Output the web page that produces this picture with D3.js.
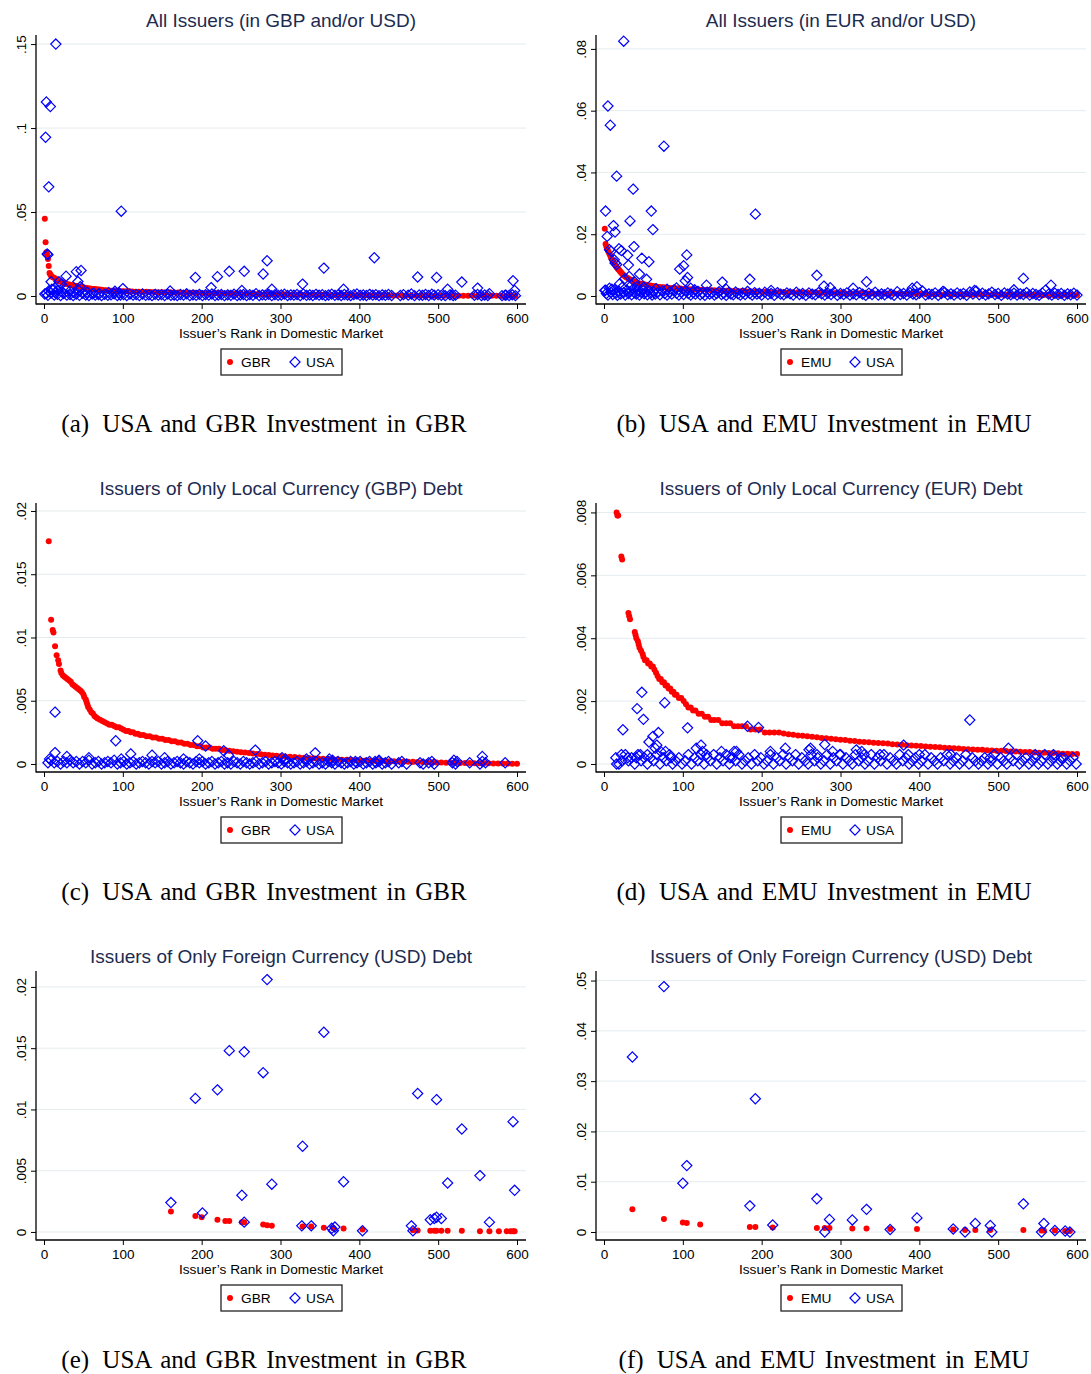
<!DOCTYPE html>
<html>
<head>
<meta charset="utf-8">
<script src="https://cdn.jsdelivr.net/npm/d3@7"></script>
<style>
  body { margin: 0; background: #fff; }
</style>
</head>
<body>
<div id="chart"></div>
<script>
// ---- data: [issuer rank, share] ----

const titles = [
    "All Issuers (in GBP and/or USD)",
    "All Issuers (in EUR and/or USD)",
    "Issuers of Only Local Currency (GBP) Debt",
    "Issuers of Only Local Currency (EUR) Debt",
    "Issuers of Only Foreign Currency (USD) Debt",
    "Issuers of Only Foreign Currency (USD) Debt"
];
const captions = [
    ["(a)", "USA and GBR Investment in GBR"],
    ["(b)", "USA and EMU Investment in EMU"],
    ["(c)", "USA and GBR Investment in GBR"],
    ["(d)", "USA and EMU Investment in EMU"],
    ["(e)", "USA and GBR Investment in GBR"],
    ["(f)", "USA and EMU Investment in EMU"]
];
const homeNames = ["GBR", "EMU", "GBR", "EMU", "GBR", "EMU"];
const xTicks = [0, 100, 200, 300, 400, 500, 600];
const yTicks = [
    [0, .05, .1, .15],
    [0, .02, .04, .06, .08],
    [0, .005, .01, .015, .02],
    [0, .002, .004, .006, .008],
    [0, .005, .01, .015, .02],
    [0, .01, .02, .03, .04, .05]
];
const yDomains = [
    [-0.00476, 0.1554],
    [-0.00259, 0.0845],
    [-0.000632, 0.02063],
    [-0.000254, 0.0083],
    [-0.000656, 0.0213],
    [-0.00159, 0.0519]
];

// (a) all issuers, GBR
const aGBR = [[1,.046],[2,.032],[3,.026],[4,.0245],[5,.022],[6,.0178],[7,.0137],[8,.0128],[9,.012],[10,.0115],[12,.011],[14,.0105],[16,.0099],[18,.0093],[20,.0088],[22,.0083],[24,.0078],[26,.0075],[28,.0072],[30,.007],[32,.0068],[34,.0066],[36,.0064],[38,.0062],[40,.006],[42,.0059],[44,.0057],[46,.0055],[48,.0053],[50,.0051],[52,.0049],[54,.0047],[56,.0045],[58,.0044],[60,.0043],[62,.0042],[64,.0041],[66,.004],[68,.0039],[70,.0038],[73,.0037],[76,.0035],[79,.0034],[82,.0033],[85,.0032],[88,.0031],[91,.0031],[94,.003],[97,.0029],[100,.0029],[104,.0028],[108,.0028],[112,.0027],[116,.0026],[120,.0026],[125,.0025],[130,.0025],[135,.0024],[140,.0024],[145,.0023],[150,.0023],[155,.0022],[160,.0022],[165,.0021],[170,.0021],[175,.002],[180,.002],[185,.0019],[190,.0019],[195,.0018],[200,.0018],[205,.0017],[210,.0017],[215,.0016],[220,.0016],[225,.0016],[230,.0015],[235,.0015],[240,.0015],[245,.0014],[250,.0014],[256,.0013],[262,.0013],[268,.0012],[274,.0012],[280,.0011],[286,.0011],[292,.001],[298,.001],[304,.001],[310,.0009],[316,.0009],[322,.0009],[328,.0008],[334,.0008],[340,.0008],[346,.0007],[352,.0007],[358,.0007],[364,.0006],[370,.0006],[376,.0006],[382,.0006],[388,.0005],[394,.0005],[400,.0005],[406,.0005],[412,.0004],[418,.0004],[424,.0004],[430,.0004],[436,.0004],[442,.0003],[448,.0003],[454,.0003],[460,.0003],[466,.0003],[472,.0002],[478,.0002],[484,.0002],[490,.0002],[496,.0002],[502,.0002],[508,.0002],[514,.0001],[520,.0001],[526,.0001],[532,.0001],[538,.0001],[544,.0001],[550,.0001],[556,.0001],[562,.0001],[568,.0001],[574,.0001],[580,0],[586,0],[592,0],[598,0]];
const aUSA = [[15,.15],[3,.1155],[8,.1128],[2,.0945],[6,.065],[98,.0505],[4,.025],[5,.0245],[9,.0085],[28,.0118],[41,.0145],[47,.0152],[43,.0086],[46,.0056],[19,.0085],[12,.004],[22,.007],[100,.0044],[160,.003],[192,.011],[212,.005],[220,.0115],[235,.0147],[251,.0033],[254,.0147],[278,.0131],[283,.021],[289,.004],[328,.0071],[355,.0166],[380,.004],[419,.0228],[474,.0113],[498,.011],[512,.004],[530,.0083],[550,.0047],[595,.0091],[597,.0033],[565,.0014],[585,.0005],
    [3,.0015],[6,.003],[10,.004],[14,.002],[18,.0035],[23,.0025],[27,.0045],[33,.003],[38,.002],[44,.0035],[55,.0022],[63,.0018],[70,.0015],[82,.002],[90,.0028],[95,.002],
    [1,.0012],[5,.0004],[9,.0018],[13,.0006],[17,.001],[21,.0003],[25,.0014],[29,.0005],[33,.0009],[37,.0002],[41,.0011],[45,.0004],[49,.0016],[53,.0006],[57,.0003],[61,.0012],[65,.0005],[69,.0008],[73,.0002],[77,.001],[81,.0004],[85,.0007],[89,.0013],[93,.0003],[97,.0006],[101,.0009],[105,.0002],[109,.0011],[113,.0005],[117,.0008],[121,.0003],[125,.0012],[129,.0004],[133,.0007],[137,.0002],[141,.001],[145,.0005],[149,.0008],[153,.0003],[157,.0011],[161,.0004],[165,.0006],[169,.0002],[173,.0009],[177,.0005],[181,.0013],[185,.0003],[189,.0007],[193,.0004],[197,.001],[201,.0002],[205,.0008],[209,.0005],[213,.0012],[217,.0003],[221,.0006],[225,.0009],[229,.0002],[233,.0007],[237,.0004],[241,.0011],[245,.0003],[249,.0006],[253,.0009],[257,.0002],[261,.0008],[265,.0004],[269,.0014],[273,.0003],[277,.0007],[281,.0005],[285,.001],[289,.0002],[293,.0008],[297,.0004],[301,.0006],[305,.0011],[309,.0003],[313,.0007],[317,.0005],[321,.0009],[325,.0002],[329,.0012],[333,.0004],[337,.0007],[341,.0003],[345,.001],[349,.0005],[353,.0008],[357,.0002],[361,.0006],[365,.0011],[369,.0004],[373,.0007],[377,.0003],[381,.0009],[385,.0005],[389,.0002],[393,.0008],[397,.0012],[401,.0004],[405,.0006],[409,.0003],[413,.001],[417,.0005],[421,.0008],[425,.0002],[429,.0007],[433,.0004],[437,.0009],[441,.0003],[452,.0003],[456,.0008],[462,.0005],[466,.0012],[470,.0002],[476,.0006],[480,.0004],[484,.0009],[488,.0003],[492,.0011],[495,.0005],[500,.0008],[504,.0004],[509,.0002],[515,.0007],[519,.0003],[522,.0005],[546,.0004],[550,.0009],[555,.0002],[559,.0006],[563,.0003],[581,.0002],[586,.0005],[590,.0003],[594,.0007],[598,.0002]];

// (b) all issuers, EMU
const bEMU = [[1,.0218],[2,.0168],[3,.016],[4,.0152],[5,.0147],[6,.0142],[7,.0136],[8,.013],[9,.0124],[10,.0119],[11,.0114],[12,.011],[13,.0106],[14,.0101],[15,.0097],[16,.0093],[17,.009],[18,.0087],[19,.0084],[20,.0081],[21,.0078],[22,.0075],[23,.0072],[24,.007],[25,.0067],[26,.0065],[27,.0063],[28,.0061],[30,.0058],[32,.0055],[34,.0052],[36,.0049],[38,.0047],[40,.0045],[42,.0043],[44,.0041],[46,.004],[48,.0039],[50,.0038],[52,.0037],[54,.0036],[56,.0035],[58,.0034],[60,.0033],[62,.0032],[64,.0031],[67,.003],[70,.0029],[73,.0028],[76,.0028],[79,.0027],[82,.0026],[85,.0026],[88,.0025],[91,.0025],[94,.0024],[97,.0024],[100,.0023],[104,.0023],[108,.0022],[112,.0022],[116,.0021],[120,.0021],[125,.002],[130,.002],[135,.0019],[140,.0019],[145,.0018],[150,.0018],[155,.0017],[160,.0017],[165,.0016],[170,.0016],[175,.0016],[180,.0015],[186,.0015],[192,.0014],[198,.0014],[204,.0014],[210,.0013],[216,.0013],[222,.0013],[228,.0012],[234,.0012],[240,.0012],[246,.0012],[252,.0011],[258,.0011],[264,.0011],[270,.0011],[276,.001],[282,.001],[288,.001],[294,.001],[300,.001],[306,.0009],[312,.0009],[318,.0009],[324,.0009],[330,.0009],[336,.0008],[342,.0008],[348,.0008],[354,.0008],[360,.0008],[366,.0008],[372,.0007],[378,.0007],[384,.0007],[390,.0007],[396,.0007],[402,.0007],[408,.0006],[414,.0006],[420,.0006],[426,.0006],[432,.0006],[438,.0006],[444,.0006],[450,.0005],[456,.0005],[462,.0005],[468,.0005],[474,.0005],[480,.0005],[486,.0005],[492,.0005],[498,.0004],[504,.0004],[510,.0004],[516,.0004],[522,.0004],[528,.0004],[534,.0004],[540,.0004],[546,.0004],[552,.0003],[558,.0003],[564,.0003],[570,.0003],[576,.0003],[582,.0003],[588,.0003],[594,.0003],[600,.0003]];
const bUSA = [[25,.0825],[5,.0615],[8,.0553],[76,.0485],[16,.0388],[37,.0346],[2,.0275],[60,.0275],[192,.0265],[33,.0243],[12,.0228],[62,.0215],[14,.0207],[4,.0193],[19,.0153],[22,.0147],[38,.016],[7,.015],[9,.0145],[30,.0132],[48,.0122],[57,.0111],[105,.0133],[13,.0117],[14,.0107],[16,.0102],[31,.01],[96,.0087],[101,.0098],[45,.0071],[54,.0054],[32,.0063],[39,.0045],[103,.0049],[106,.006],[150,.0045],[185,.0054],[130,.0035],[270,.0067],[279,.0032],[287,.0027],[316,.0025],[333,.0046],[397,.003],[391,.0025],[532,.0057],[567,.0035],[520,.002],[470,.0018],[430,.0015],[212,.0018],[2,.0019],[10,.0022],[20,.004],[26,.0055],[35,.0035],[42,.003],[50,.0028],[66,.0024],[80,.0022],[92,.0026],[110,.0025],[115,.002],[155,.0022],
    [1,.0018],[3,.0008],[5,.0003],[7,.0025],[9,.0012],[11,.0005],[13,.002],[15,.0009],[17,.0002],[19,.0015],[21,.0006],[23,.0028],[25,.0011],[27,.0003],[29,.0019],[31,.0008],[33,.0014],[35,.0004],[37,.0023],[39,.001],[41,.0006],[43,.0017],[45,.0003],[47,.0012],[49,.0021],[51,.0007],[53,.0013],[55,.0004],[57,.0018],[59,.0009],[61,.0003],[63,.0014],[65,.0006],[68,.0011],[71,.0004],[74,.0016],[77,.0008],[80,.0003],[83,.0012],[86,.0006],[89,.002],[92,.0009],[95,.0003],[98,.0013],[101,.0005],[104,.0017],[107,.0008],[110,.0003],[113,.0011],[116,.0006],[119,.0015],[122,.0004],[125,.0009],[128,.0002],[131,.0012],[134,.0006],[137,.001],[140,.0003],[143,.0008],[146,.0014],[149,.0005],[152,.0009],[155,.0002],[158,.0011],[161,.0006],[164,.0004],[167,.0013],[170,.0007],[173,.0003],[176,.001],[179,.0005],[182,.0015],[185,.0008],[188,.0003],[191,.0011],[194,.0006],[197,.0009],[200,.0003],[204,.0012],[208,.0005],[212,.0008],[216,.0002],[220,.0011],[224,.0006],[228,.0004],[232,.001],[236,.0007],[240,.0003],[244,.0012],[248,.0005],[252,.0008],[256,.0002],[260,.001],[264,.0006],[268,.0004],[272,.0011],[276,.0007],[280,.0003],[284,.0009],[288,.0005],[292,.0012],[296,.0002],[300,.0008],[304,.0005],[308,.001],[312,.0003],[316,.0007],[320,.0004],[324,.0011],[328,.0006],[332,.0002],[336,.0009],[340,.0005],[344,.0012],[348,.0003],[352,.0007],[356,.0004],[360,.001],[364,.0006],[368,.0002],[372,.0014],[376,.0005],[380,.0008],[384,.0003],[388,.0011],[392,.0006],[396,.0004],[400,.0009],[404,.0016],[408,.0003],[412,.0007],[416,.0005],[420,.001],[424,.0002],[428,.0008],[432,.0012],[436,.0004],[440,.0007],[444,.0003],[448,.001],[452,.0005],[456,.0008],[460,.0002],[464,.0013],[468,.0006],[472,.0016],[476,.0004],[480,.0009],[484,.0003],[488,.0007],[492,.0012],[496,.0005],[500,.0008],[504,.0002],[508,.001],[512,.0006],[516,.0004],[520,.0009],[524,.0003],[528,.0007],[532,.0005],[536,.0011],[540,.0003],[544,.0008],[548,.0005],[552,.0002],[556,.001],[560,.0019],[564,.0006],[568,.0003],[572,.0009],[576,.0005],[580,.0008],[584,.0002],[588,.0007],[592,.0004],[596,.0009],[600,.0003]];

// (c) local-currency issuers, GBR
const cGBR = [[6,.0176],[9,.0114],[11,.0106],[12,.0104],[14,.0093],[16,.0086],[18,.0082],[19,.0079],[21,.0074],[22,.0072],[24,.007],[26,.0069],[28,.0068],[30,.0067],[32,.0066],[34,.0065],[36,.0063],[38,.0062],[40,.0061],[42,.006],[44,.0059],[46,.0058],[48,.0057],[50,.0055],[51,.0053],[53,.0051],[54,.0049],[55,.0047],[56,.0045],[58,.0043],[60,.0041],[62,.004],[64,.0038],[66,.0037],[68,.0036],[71,.0035],[74,.0034],[77,.0033],[80,.0032],[83,.0031],[86,.0031],[89,.003],[92,.0029],[95,.0029],[98,.0028],[101,.0027],[104,.0026],[107,.0026],[110,.0025],[113,.0025],[116,.0024],[119,.0024],[122,.0023],[126,.0023],[130,.0022],[134,.0022],[138,.0021],[142,.0021],[146,.002],[150,.002],[154,.0019],[158,.0019],[162,.0018],[166,.0018],[170,.0017],[174,.0017],[178,.0016],[182,.0016],[186,.0015],[190,.0015],[194,.0014],[198,.0014],[202,.0013],[206,.0013],[210,.0013],[214,.0012],[218,.0012],[222,.0012],[226,.0011],[230,.0011],[235,.00105],[240,.001],[245,.00097],[250,.00093],[255,.0009],[260,.00086],[265,.00083],[270,.0008],[275,.00077],[280,.00074],[285,.00071],[290,.00068],[295,.00065],[300,.00062],[306,.0006],[312,.00057],[318,.00055],[324,.00052],[330,.0005],[336,.00048],[342,.00046],[348,.00044],[354,.00042],[360,.0004],[366,.00038],[372,.00036],[378,.00034],[384,.00033],[390,.00031],[396,.0003],[402,.00028],[408,.00027],[414,.00026],[420,.00025],[426,.00024],[432,.00023],[438,.00022],[444,.00021],[450,.0002],[456,.00019],[462,.00018],[468,.00017],[474,.00016],[480,.00015],[486,.00014],[492,.00013],[498,.00012],[504,.00011],[510,.0001],[516,.0001],[522,.00009],[528,.00008],[534,.00008],[540,.00007],[546,.00006],[552,.00006],[558,.00005],[564,.00005],[570,.00004],[576,.00004],[582,.00003],[588,.00003],[594,.00002],[600,.00002]];
const cUSA = [[14,.0041],[91,.00184],[195,.00184],[205,.00142],[228,.00105],[234,.0007],[268,.0011],[344,.00088],[556,.0006],[14,.0009],[7,.0004],[29,.0006],[57,.0005],[110,.0008],[137,.0007],[153,.0005],[177,.0004],[197,.0004],[302,.0005],[306,.0004],[333,.0004],[362,.0004],[366,.0003],[425,.0003],[420,.0002],[395,.0002],[98,.0004],
    [5,.0001],[9,.0003],[13,.0001],[17,.0002],[21,0],[25,.0002],[29,.0001],[33,.0003],[37,.0001],[41,.0002],[45,0],[49,.0002],[53,.0001],[57,.0003],[61,0],[65,.0001],[69,.0002],[73,0],[77,.0001],[81,.0002],[85,.0001],[89,.0003],[93,0],[97,.0001],[101,.0002],[105,0],[109,.0001],[113,.0002],[117,0],[121,.0001],[125,.0002],[129,.0001],[133,0],[137,.0002],[141,.0001],[145,.0002],[149,0],[153,.0001],[157,.0002],[161,0],[165,.0001],[169,.0002],[173,.0001],[177,0],[181,.0002],[185,.0001],[189,0],[193,.0002],[197,.0001],[201,.0002],[205,0],[209,.0001],[213,.0002],[217,0],[221,.0001],[225,.0002],[229,0],[233,.0001],[237,0],[241,.0002],[245,.0001],[249,0],[253,.0002],[257,.0001],[261,0],[265,.0001],[269,.0002],[273,0],[277,.0001],[281,.0002],[285,0],[289,.0001],[293,.0002],[297,.0001],[301,0],[305,.0002],[309,.0001],[313,0],[317,.0001],[321,.0002],[325,0],[329,.0001],[333,.0002],[337,0],[341,.0001],[345,.0002],[349,0],[353,.0001],[357,0],[361,.0002],[365,.0001],[369,0],[373,.0002],[377,.0001],[381,0],[385,.0001],[389,.0002],[393,0],[397,.0001],[401,.0002],[405,0],[409,.0001],[413,.0002],[417,0],[421,.0001],[425,.0002],[429,0],[433,.0001],[437,.0002],[441,0],[450,.0001],[454,.0002],[460,0],[477,.0001],[481,0],[488,.0001],[492,.0002],[495,0],[518,.0001],[520,.0003],[522,0],[524,.0002],[540,.0001],[553,0],[556,.0002],[560,.0001],[585,.0001]];

// (d) local-currency issuers, EMU
const dEMU = [[16,.008],[17,.0079],[18,.0079],[22,.0066],[23,.0065],[31,.0048],[32,.0047],[33,.0046],[39,.0042],[40,.0041],[41,.004],[43,.0039],[44,.0038],[45,.0037],[47,.0036],[49,.0035],[50,.0034],[52,.0033],[54,.0033],[56,.0032],[58,.0032],[60,.0031],[62,.0031],[64,.003],[66,.0029],[68,.0028],[70,.0027],[72,.0027],[74,.0026],[76,.0026],[78,.0025],[80,.0025],[82,.0024],[84,.0024],[86,.0023],[88,.0023],[90,.0022],[92,.0022],[95,.0021],[98,.0021],[101,.002],[104,.0019],[107,.0018],[110,.0018],[113,.0017],[116,.0017],[120,.0016],[124,.0016],[128,.0015],[132,.0015],[136,.0014],[140,.0014],[145,.0014],[150,.0013],[155,.0013],[160,.0013],[165,.0012],[170,.0012],[175,.0012],[180,.0012],[186,.0011],[192,.0011],[198,.0011],[204,.001],[210,.001],[216,.001],[222,.001],[228,.00097],[234,.00095],[240,.00093],[246,.00091],[252,.0009],[258,.00088],[264,.00087],[270,.00085],[276,.00083],[282,.00082],[288,.0008],[294,.00079],[300,.00077],[306,.00076],[312,.00074],[318,.00073],[324,.00071],[330,.0007],[336,.00069],[342,.00068],[348,.00067],[354,.00066],[360,.00065],[366,.00063],[372,.00062],[378,.00061],[384,.0006],[390,.00059],[396,.00058],[402,.00057],[408,.00056],[414,.00055],[420,.00054],[426,.00053],[432,.00052],[438,.00051],[444,.0005],[450,.00049],[456,.00048],[462,.00047],[468,.00046],[474,.00045],[480,.00045],[486,.00044],[492,.00043],[498,.00042],[504,.00042],[510,.00041],[516,.0004],[522,.0004],[528,.00039],[534,.00038],[540,.00038],[546,.00037],[552,.00036],[558,.00036],[564,.00035],[570,.00035],[576,.00034],[582,.00033],[588,.00033],[594,.00032],[600,.00032]];
const dUSA = [[48,.00228],[42,.00176],[77,.00195],[50,.00142],[24,.00109],[106,.00115],[182,.0012],[196,.00116],[464,.0014],[69,.001],[62,.00088],[57,.0007],[67,.0006],[65,.0005],[123,.0006],[117,.0005],[280,.00062],[380,.0006],[513,.0005],[230,.0005],[262,.0005],[260,.00045],[290,.0004],[320,.00045],[327,.0004],[330,.0003],[78,.0004],[149,.0004],[165,.0004],[168,.0004],[211,.0004],[547,.0003],[386,.0003],[22,.0003],[30,.0002],[41,.0002],[16,0],[46,.0003],[55,.0003],[72,.0004],[85,.0002],[125,.0004],[130,.0003],[160,.0002],[270,.0003],[300,.0003],[350,.0003],[400,.0003],[440,.0003],[490,.0002],[570,.0003],[580,.0002],
    [15,.0002],[19,0],[23,.0001],[27,.0003],[31,.0001],[35,.0002],[39,0],[43,.0003],[47,.0001],[51,.0002],[55,0],[59,.0002],[63,.0001],[67,.0003],[71,0],[75,.0002],[79,.0001],[83,.0003],[87,0],[91,.0001],[95,.0002],[99,0],[103,.0001],[107,.0003],[111,0],[115,.0002],[119,.0001],[123,.0003],[127,0],[131,.0002],[135,.0001],[139,.0003],[143,0],[147,.0002],[151,.0001],[155,.0003],[159,0],[163,.0002],[167,.0001],[171,.0003],[175,0],[179,.0001],[183,.0002],[187,0],[191,.0003],[195,.0001],[199,.0002],[203,0],[207,.0001],[211,.0003],[215,0],[219,.0002],[223,.0001],[227,.0003],[231,0],[235,.0002],[239,.0001],[243,.0003],[247,0],[251,.0002],[255,.0001],[259,0],[263,.0003],[267,.0001],[271,.0002],[275,0],[279,.0001],[283,.0003],[287,0],[291,.0002],[295,.0001],[299,.0003],[303,0],[307,.0002],[311,.0001],[315,0],[319,.0003],[323,.0001],[327,.0002],[331,0],[335,.0001],[339,.0003],[343,0],[347,.0002],[351,.0001],[355,.0003],[359,0],[363,.0002],[367,.0001],[371,0],[375,.0003],[379,.0001],[383,.0002],[387,0],[391,.0001],[395,.0002],[399,0],[403,.0001],[407,.0003],[411,0],[415,.0002],[419,.0001],[423,0],[427,.0002],[431,.0001],[435,.0003],[439,0],[443,.0001],[447,.0002],[451,0],[455,.0001],[459,.0003],[463,0],[467,.0002],[471,.0001],[475,0],[479,.0001],[483,.0002],[487,0],[491,.0001],[495,.0003],[499,0],[503,.0002],[507,.0001],[511,0],[515,.0002],[519,.0001],[523,.0003],[527,0],[531,.0001],[535,.0002],[539,0],[543,.0001],[547,.0002],[551,0],[555,.0001],[559,.0003],[563,0],[567,.0001],[571,.0002],[575,0],[579,.0001],[583,.0002],[587,0],[591,.0001],[595,.0002],[599,0]];

// (e) foreign-currency issuers, GBR
const eGBR = [[161,.00166],[192,.0013],[200,.0012],[220,.001],[230,.0009],[235,.0009],[251,.0008],[254,.0008],[278,.0006],[283,.00055],[289,.0005],[328,.00045],[339,.00045],[355,.00035],[367,.0003],[380,.00028],[404,.0002],[468,.00015],[474,.00012],[490,.0001],[495,.0001],[498,.0001],[504,.0001],[512,.0001],[530,.0001],[553,.00005],[565,.00005],[577,.00005],[587,.00005],[592,.00005],[595,.00005],[597,.00005]];
const eUSA = [[161,.0024],[192,.0109],[201,.00155],[220,.0116],[235,.0148],[251,.003],[254,.0147],[254,.0008],[278,.013],[283,.0206],[289,.0039],[328,.007],[327,.0005],[339,.0005],[355,.0163],[365,.0003],[367,.0001],[369,.0004],[380,.0041],[404,.0001],[466,.0005],[468,.0001],[474,.0113],[490,.001],[495,.0011],[498,.0012],[504,.0011],[498,.0108],[512,.004],[530,.0084],[553,.0046],[565,.0008],[595,.009],[597,.0034]];

// (f) foreign-currency issuers, EMU
const fEMU = [[36,.0045],[76,.0026],[100,.0019],[105,.0018],[122,.0015],[185,.001],[192,.001],[214,.0009],[270,.0008],[280,.0008],[286,.0008],[315,.0007],[333,.0007],[363,.0006],[397,.0006],[443,.0005],[458,.0004],[471,.0004],[490,.0004],[532,.0004],[555,.0003],[558,.0003],[572,.0003],[585,.0002],[591,.0002]];
const fUSA = [[36,.0348],[76,.0488],[100,.0097],[105,.0132],[185,.0052],[192,.0265],[214,.0014],[270,.0066],[280,0],[286,.0025],[315,.0024],[333,.0045],[363,.0005],[397,.0028],[443,.0006],[458,0],[471,.0017],[490,.0013],[492,0],[532,.0056],[555,0],[558,.0017],[572,.0003],[585,.0002],[591,0]];

const homeSeries = [aGBR, bEMU, cGBR, dEMU, eGBR, fEMU];
const usaSeries = [aUSA, bUSA, cUSA, dUSA, eUSA, fUSA];

// ---- drawing ----
const width = 1091;
const height = 1374;
const colX = [0, 560];
const rowY = [0, 468, 936];
const plot = { left: 36, right: 526, top: 35, bottom: 304 };
const sans = "'Liberation Sans', Arial, Helvetica, sans-serif";
const serif = "'Liberation Serif', 'Times New Roman', serif";
const titleColor = "#1c2b50";
const gridColor = "#e4ecef";
const red = "#ff0000";
const blue = "#0000ff";
const dotR = 3;
const diaR = 5.1;
const diamond = r => `M0,${-r}L${r},0L0,${r}L${-r},0Z`;
const fmtTick = v => v === 0 ? "0" : String(v).replace(/^0\./, ".");

const svg = d3.select("#chart").append("svg")
    .attr("width", width)
    .attr("height", height)
    .attr("viewBox", [0, 0, width, height])
    .style("font-family", sans);

svg.append("rect").attr("width", width).attr("height", height).attr("fill", "#fff");

titles.forEach((title, i) => {
    const g = svg.append("g")
        .attr("transform", `translate(${colX[i % 2]},${rowY[Math.floor(i / 2)]})`);

    const x = d3.scaleLinear().domain([0, 600]).range([44, 517]);
    const y = d3.scaleLinear().domain(yDomains[i]).range([plot.bottom, plot.top]);

    // gridlines
    g.append("g").selectAll("line")
        .data(yTicks[i])
        .join("line")
        .attr("x1", plot.left).attr("x2", plot.right)
        .attr("y1", d => y(d)).attr("y2", d => y(d))
        .attr("stroke", gridColor)
        .attr("stroke-width", 1);

    // y axis
    const yAxis = g.append("g")
        .attr("transform", `translate(${plot.left},0)`)
        .call(d3.axisLeft(y).tickValues(yTicks[i]).tickSize(5).tickSizeOuter(0).tickFormat(fmtTick));
    yAxis.select(".domain").remove();
    yAxis.selectAll(".tick line").attr("stroke", "#000");
    yAxis.selectAll(".tick text")
        .attr("x", 0).attr("y", 0).attr("dy", null)
        .attr("transform", "translate(-10,0) rotate(-90)")
        .attr("text-anchor", "middle")
        .attr("fill", "#000")
        .style("font-size", "13.5px")
        .style("font-family", sans);

    // x axis
    const xAxis = g.append("g")
        .attr("transform", `translate(0,${plot.bottom})`)
        .call(d3.axisBottom(x).tickValues(xTicks).tickSize(5).tickSizeOuter(0).tickPadding(4));
    xAxis.select(".domain").remove();
    xAxis.selectAll(".tick line").attr("stroke", "#000");
    xAxis.selectAll(".tick text")
        .attr("fill", "#000")
        .style("font-size", "13.5px")
        .style("font-family", sans);

    // axis lines
    g.append("line")
        .attr("x1", plot.left).attr("x2", plot.left)
        .attr("y1", plot.top).attr("y2", plot.bottom + 0.5)
        .attr("stroke", "#000").attr("stroke-width", 1.3);
    g.append("line")
        .attr("x1", plot.left).attr("x2", plot.right)
        .attr("y1", plot.bottom).attr("y2", plot.bottom)
        .attr("stroke", "#000").attr("stroke-width", 1.3);

    // home country dots
    g.append("g").selectAll("circle")
        .data(homeSeries[i])
        .join("circle")
        .attr("cx", d => x(d[0]))
        .attr("cy", d => y(d[1]))
        .attr("r", dotR)
        .attr("fill", red);

    // USA diamonds
    g.append("g").selectAll("path")
        .data(usaSeries[i])
        .join("path")
        .attr("transform", d => `translate(${x(d[0])},${y(d[1])})`)
        .attr("d", diamond(diaR))
        .attr("fill", "none")
        .attr("stroke", blue)
        .attr("stroke-width", 1.2);

    // title
    g.append("text")
        .attr("x", (plot.left + plot.right) / 2)
        .attr("y", 27)
        .attr("text-anchor", "middle")
        .attr("fill", titleColor)
        .style("font-size", "19px")
        .text(title);

    // x axis title
    g.append("text")
        .attr("x", (plot.left + plot.right) / 2)
        .attr("y", 338)
        .attr("text-anchor", "middle")
        .attr("fill", "#000")
        .style("font-size", "13.7px")
        .text("Issuer\u2019s Rank in Domestic Market");

    // legend
    const lg = g.append("g");
    lg.append("rect")
        .attr("x", 221).attr("y", 349)
        .attr("width", 121).attr("height", 26)
        .attr("fill", "#fff")
        .attr("stroke", "#222")
        .attr("stroke-width", 1.3);
    lg.append("circle").attr("cx", 230).attr("cy", 362).attr("r", dotR).attr("fill", red);
    lg.append("text").attr("x", 241).attr("y", 367).style("font-size", "13.7px").text(homeNames[i]);
    lg.append("path")
        .attr("transform", "translate(295,362)")
        .attr("d", diamond(diaR))
        .attr("fill", "none").attr("stroke", blue).attr("stroke-width", 1.2);
    lg.append("text").attr("x", 306).attr("y", 367).style("font-size", "13.7px").text("USA");

    // caption
    const cap = g.append("text")
        .attr("x", 264)
        .attr("y", 432)
        .attr("text-anchor", "middle")
        .attr("fill", "#000")
        .style("font-family", serif)
        .style("font-size", "25px")
        .style("word-spacing", "3px");
    cap.append("tspan").text(captions[i][0]);
    cap.append("tspan").attr("dx", 4).text(" " + captions[i][1]);
});
</script>
</body>
</html>
